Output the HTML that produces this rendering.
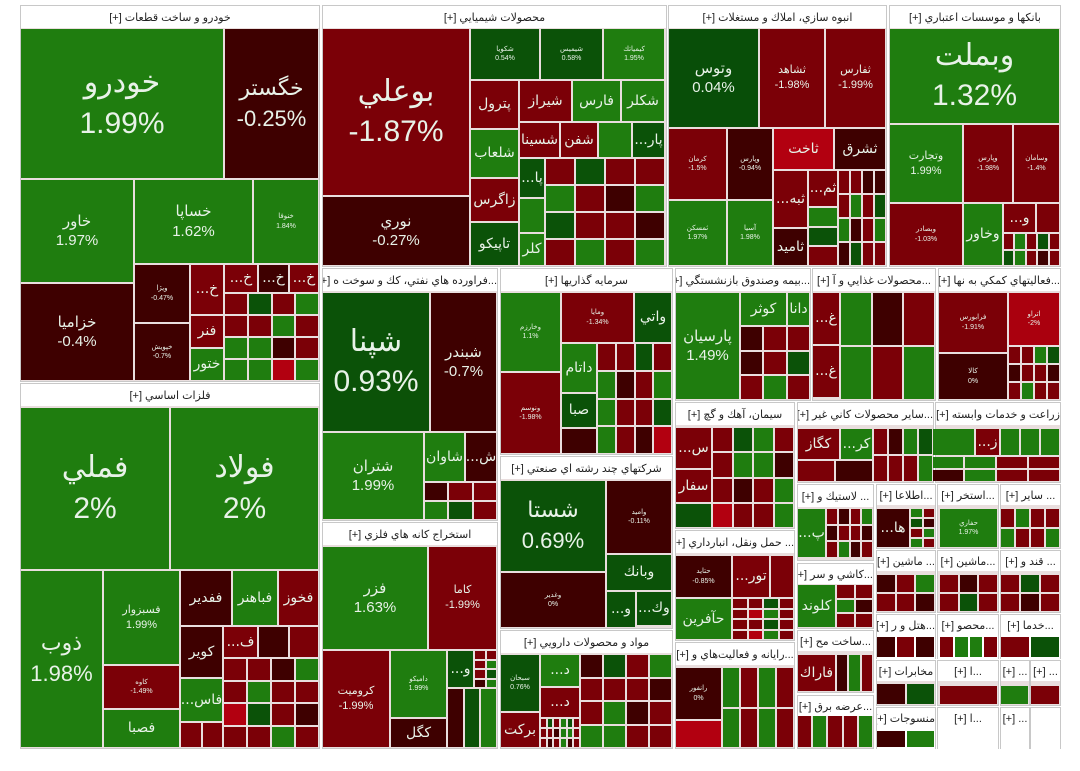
<!DOCTYPE html>
<html><head><meta charset="utf-8">
<style>
html,body{margin:0;padding:0;background:#fff;width:1080px;height:771px;overflow:hidden}
#map{position:absolute;left:0;top:0;width:1080px;height:771px}
.sec{position:absolute;background:#e9dede;box-sizing:border-box;border:1px solid #c8c8c8}
.hdr{position:absolute;left:0;right:0;top:0;background:#fff;color:#222;font:11px "Liberation Sans","DejaVu Sans",sans-serif;text-align:center;white-space:nowrap;overflow:hidden;direction:rtl}
.tile{position:absolute;display:flex;flex-direction:column;align-items:center;justify-content:center;color:#e8f2e8;font-family:"Liberation Sans","DejaVu Sans",sans-serif;overflow:hidden;white-space:nowrap;text-align:center}
.tile span{display:block}
</style></head><body>
<div id="map"></div>
<script>
// ---- sector data ----
const sectorTitles=["خودرو و ساخت قطعات [+]","محصولات شيميايي [+]","انبوه سازي، املاك و مستغلات [+]","بانكها و موسسات اعتباري [+]","...فراورده هاي نفتي، كك و سوخت ه [+]","استخراج كانه هاي فلزي [+]","فلزات اساسي [+]","سرمايه گذاريها [+]","شركتهاي چند رشته اي صنعتي [+]","مواد و محصولات دارويي [+]","...بيمه وصندوق بازنشستگي [+]","...محصولات غذايي و آ [+]","...فعاليتهاي كمكي به نها [+]","سيمان، آهك و گچ [+]","... حمل ونقل، انبارداري [+]","...رايانه و فعاليت‌هاي و [+]","...ساير محصولات كاني غير [+]","زراعت و خدمات وابسته [+]","... لاستيك و [+]","...اطلاعا [+]","...استخر [+]","... ساير [+]","...كاشي و سر [+]","... ماشين [+]","...ماشين [+]","... قند و [+]","...ساخت مح [+]","...عرضه برق [+]","...هتل و ر [+]","...محصو [+]","...خدما [+]","مخابرات [+]","منسوجات [+]","...ا [+]","...ا [+]","... [+]","... [+]","... [+]",""];
const sectorBoxes=[[20,5,319,381],[322,5,666,266],[668,5,886,266],[889,5,1060,266],[322,268,497,520],[322,522,497,748],[20,383,319,748],[500,268,672,454],[500,456,672,628],[500,630,672,748],[675,268,810,400],[812,268,935,400],[938,268,1060,400],[675,402,794,528],[675,530,794,640],[675,642,794,748],[797,402,933,482],[935,402,1060,482],[797,484,873,560],[876,484,935,548],[937,484,998,548],[1000,484,1060,548],[797,563,873,628],[876,550,935,612],[937,550,998,612],[1000,550,1060,612],[797,630,873,692],[797,695,873,748],[876,614,935,658],[937,614,998,658],[1000,614,1060,658],[876,660,935,705],[876,707,935,748],[937,660,998,705],[937,707,998,748],[1000,660,1029,705],[1030,660,1060,705],[1000,707,1029,748],[1030,707,1060,748]];
// ---- named tiles ----
const tileNames=["خودرو","خگستر","خاور","خساپا","خنوفا","خزاميا","ويژا","خپویش","...خ","فنر","ختور","...خ","...خ","...خ",
"بوعلي","نوري","شكويا","شيميس","كيمياتك","پترول","شلعاب","زاگرس","تاپيكو","شيراز","فارس","شكلر","شسينا","شفن","","...پار","...پا","كلر",
"وتوس","ثشاهد","ثفارس","كرمان","وپارس","ثاخت","ثشرق","ثمسكن","آسيا","...ثبه","ثاميد","...ثم",
"وبملت","وتجارت","وپارس","وسامان","وبصادر","وخاور","...و",
"شپنا","شبندر","شتران","شاوان","...ش",
"فزر","كاما","كروميت","داميكو","كگل","...و",
"فملي","فولاد","ذوب","فسبزوار","كاوه","فصبا","ففدير","فباهنر","فخوز","كوير","...فاس","...ف",
"وخارزم","ومايا","واتي","داتام","ونوسم","صبا",
"شستا","واميد","وبانك","وغدير","...و","...وك",
"سبحان","...د","...د","بركت",
"پارسيان","كوثر","دانا",
"...غ","...غ",
"فرابورس","اتراو","كالا",
"...س","سفار","",
"حتايد","...تور","","حآفرين",
"رانفور","",
"كگاز","...كر","","...ز",
"...پ","...ها","حفاري","كلوند","فاراك"];
const tileChanges=[1.99,-0.25,1.97,1.62,1.84,-0.4,-0.47,-0.7,-1.9,-1.9,1.9,-1.9,-0.5,-1.9,
-1.87,-0.27,0.54,0.58,1.95,-1.9,1.9,-1.9,0.5,-1.9,1.9,1.9,-1.9,-1.9,1.9,0.5,0.5,1.9,
0.04,-1.98,-1.99,-1.5,-0.94,-2.5,-0.5,1.97,1.98,-1.9,-0.5,-1.9,
1.32,1.99,-1.98,-1.4,-1.03,1.9,-1.9,
0.93,-0.7,1.99,1.9,-0.5,
1.63,-1.99,-1.99,1.99,-0.5,0.5,
2,2,1.98,1.99,-1.49,1.9,-0.5,1.9,-1.9,-0.5,1.9,-1.9,
1.1,-1.34,0.5,1.9,-1.98,0.5,
0.69,-0.11,0.5,0,0.5,0.5,
0.76,1.9,-1.9,-1.9,
1.49,1.9,1.9,
-1.9,-1.9,
-1.91,-2,0,
-1.9,-1.9,0.5,
-0.85,-1.9,-1.9,1.9,
0,-2.5,
-1.9,1.9,1.9,-1.9,
1.9,-0.5,1.97,1.9,-1.9];
// layout (pixel boxes) and label style, parallel to the arrays above
const tileBoxes=[[20,28,224,179,"L"],[224,28,319,179,"K"],[20,179,134,283,"M"],[134,179,253,264,"M"],[253,179,319,264,"S"],[20,283,134,381,"M"],[134,264,190,323,"S"],[134,323,190,381,"S"],[190,264,224,315,"N"],[190,315,224,348,"N"],[190,348,224,381,"N"],[224,264,258,293,"N"],[258,264,289,293,"N"],[289,264,319,293,"N"],
[322,28,470,196,"L"],[322,196,470,266,"M"],[470,28,540,80,"S"],[540,28,603,80,"S"],[603,28,665,80,"S"],[470,80,519,129,"N"],[470,129,519,178,"N"],[470,178,519,222,"N"],[470,222,519,266,"N"],[519,80,572,122,"N"],[572,80,621,122,"N"],[621,80,665,122,"N"],[519,122,560,158,"N"],[560,122,598,158,"N"],[598,122,632,158,"N"],[632,122,665,158,"N"],[519,158,545,198,"N"],[519,233,545,266,"N"],
[668,28,759,128,"M"],[759,28,825,128,"m"],[825,28,886,128,"m"],[668,128,727,200,"S"],[727,128,773,200,"S"],[773,128,834,170,"N"],[834,128,886,170,"N"],[668,200,727,266,"S"],[727,200,773,266,"S"],[773,170,808,228,"N"],[773,228,808,266,"N"],[808,170,838,207,"N"],
[889,28,1060,124,"L"],[889,124,963,203,"m"],[963,124,1013,203,"S"],[1013,124,1060,203,"S"],[889,203,963,266,"S"],[963,203,1003,266,"N"],[1003,203,1036,233,"N"],
[322,292,430,432,"L"],[430,292,497,432,"M"],[322,432,424,520,"M"],[424,432,465,482,"N"],[465,432,497,482,"N"],
[322,546,428,650,"M"],[428,546,497,650,"m"],[322,650,390,748,"m"],[390,650,447,718,"S"],[390,718,447,748,"N"],[447,650,474,688,"N"],
[20,407,170,570,"L"],[170,407,319,570,"L"],[20,570,103,748,"K"],[103,570,180,665,"m"],[103,665,180,709,"S"],[103,709,180,748,"N"],[180,570,232,626,"N"],[232,570,278,626,"N"],[278,570,319,626,"N"],[180,626,223,678,"N"],[180,678,223,722,"N"],[223,626,258,658,"N"],
[500,292,561,372,"S"],[561,292,634,343,"S"],[634,292,672,343,"N"],[561,343,597,393,"N"],[500,372,561,454,"S"],[561,393,597,428,"N"],
[500,480,606,572,"K"],[606,480,672,554,"S"],[606,554,672,591,"N"],[500,572,606,628,"S"],[606,591,636,628,"N"],[636,591,672,626,"N"],
[500,654,540,712,"S"],[540,654,580,687,"N"],[540,687,580,718,"N"],[500,712,540,748,"N"],
[675,292,740,400,"M"],[740,292,787,326,"N"],[787,292,810,326,"N"],
[812,292,840,345,"N"],[812,345,840,398,"N"],
[938,292,1008,353,"S"],[1008,292,1060,346,"S"],[938,353,1008,400,"S"],
[675,427,712,469,"N"],[675,469,712,503,"N"],[675,503,712,528,"N"],
[675,555,732,598,"S"],[732,555,770,598,"N"],[770,555,794,598,"N"],[675,598,732,640,"N"],
[675,667,722,720,"S"],[675,720,722,748,"N"],
[797,428,840,460,"N"],[840,428,873,460,"N"],[932,428,975,456,"N"],[975,428,1000,456,"N"],
[797,508,826,558,"N"],[876,508,910,548,"N"],[939,508,998,548,"S"],[797,584,836,628,"N"],[797,654,836,692,"N"]];
// ---- unlabeled small tiles: change codes G=+1.9 g=+0.5 r=-0.5 R=-1.9 B=-2.5 ----
const fillerCodes={G:1.9,g:0.5,r:-0.5,R:-1.9,B:-2.5};
const fillerPatterns=["RgRGRRGRGGrRGGBG","RgRRGRrGgRRrRGRG","G","RRrrRGRgGrRGrgRR","RGRgRgGRrR","R","rRRGgR","rgG","RRRGRgrG","rRGRR","RRrGRGRRBgRrRRGR","RR","r","RRgRGrRGGRRgGRrB","rgRGRRRrRGrRGGRR","RgRGgRRRrGGRRrRGrR","rRRrRgRGR","GrRGR","GgR","RRGgrRRrRGRRRGRg","RgGRRGGrRrRGBRRG","RRgRRBGR","GR","RrRGRgRR","RrGgRRRGRrRGrRgG","GGRRrGRR","RrRGrR","GRgrRG","RGR","RRGr","rRGRRrRG","RrRRgR","RgRRrR","rGRRGR","RGR","rRrGg","RGGR","RgRr","rgG","rG","RR","GG","R","G","GRR"];
const fillerBoxes=[[224,293,319,381,4,4],[545,158,665,266,4,4],[519,198,545,233,1,1],[838,170,886,266,4,4],[1003,233,1060,266,5,2],[1036,203,1060,233,1,1],[424,482,497,520,3,2],[447,688,497,748,3,1],[474,650,497,688,2,4],[258,626,319,658,2,1],[223,658,319,748,4,4],[180,722,223,748,2,1],[561,428,597,454,1,1],[597,343,672,454,4,4],[580,654,672,748,4,4],[540,718,580,748,6,3],[740,326,810,400,3,3],[840,292,935,400,3,2],[808,207,838,266,1,3],[1008,346,1060,400,4,3],[712,427,794,528,4,4],[732,598,794,640,4,4],[722,667,794,748,4,2],[797,460,873,482,2,1],[873,428,933,482,4,2],[932,456,1060,482,4,2],[826,508,873,558,4,3],[910,508,935,548,2,4],[1000,508,1060,548,4,2],[836,584,873,628,2,3],[876,574,935,612,3,2],[939,574,998,612,3,2],[1000,574,1060,612,3,2],[836,654,873,692,3,1],[797,715,873,748,5,1],[876,636,935,658,3,1],[939,636,998,658,4,1],[1000,636,1060,658,2,1],[876,683,935,705,2,1],[876,730,935,748,2,1],[939,685,998,705,1,1],[1000,685,1029,705,1,1],[1030,685,1060,705,1,1],[1000,428,1060,456,3,1]];

function colorFor(c){
  if(c>0){ if(c>=1) return "rgb(31,125,15)"; if(c>=0.3) return "rgb(11,82,8)"; return "rgb(8,78,8)"; }
  if(c<=-2.2) return "rgb(178,0,16)";
  if(c<=-2) return "rgb(170,0,14)";
  if(c<=-1) return "rgb(123,0,7)";
  return "rgb(62,0,0)";
}
function fmt(c){return (Math.round(c*100)/100)+"%";}
const map=document.getElementById('map');
function tileDiv(x1,y1,x2,y2,c){
  const d=document.createElement('div');
  d.className='tile';
  d.style.left=(x1+1)+'px';d.style.top=(y1+1)+'px';
  d.style.width=Math.max(0,x2-x1-2)+'px';d.style.height=Math.max(0,y2-y1-2)+'px';
  d.style.background=colorFor(c);
  map.appendChild(d);return d;
}
sectorBoxes.forEach((b,i)=>{
  const s=document.createElement('div');
  s.className='sec';
  
  
  s.style.left=b[0]+'px';s.style.top=b[1]+'px';s.style.width=(b[2]-b[0]+1)+'px';s.style.height=(b[3]-b[1]+1)+'px';
  if(!sectorTitles[i]) s.style.background='#fff';
  const h=document.createElement('div');
  h.className='hdr';
  
  
  h.textContent=sectorTitles[i];
  const hh=(b[3]-b[1]>70)?22:20;
  h.style.height=hh+'px';h.style.lineHeight=(hh+2)+'px';
  if(b[3]-b[1]<45) h.style.height=(b[3]-b[1])+'px';
  s.appendChild(h);map.appendChild(s);
});
const sizes={L:[30,30],K:[22,22],M:[15,15],m:[11,11],S:[7,7],N:[14,0]};
tileBoxes.forEach((b,i)=>{
  const d=tileDiv(b[0],b[1],b[2],b[3],tileChanges[i]);
  
  
  const sz=sizes[b[4]];
  if(tileNames[i]){
    const n=document.createElement('span');n.textContent=tileNames[i];
    n.style.fontSize=sz[0]+'px';n.style.lineHeight=(sz[0]*1.35)+'px';
    n.style.fontFamily='"DejaVu Sans","Liberation Sans",sans-serif';
    d.appendChild(n);
    if(sz[1]){const p=document.createElement('span');p.textContent=fmt(tileChanges[i]);p.style.fontSize=sz[1]+'px';p.style.lineHeight=(sz[1]*1.35)+'px';d.appendChild(p);}
  }
});
fillerBoxes.forEach((b,i)=>{
  const pat=fillerPatterns[i]||"R";
  const cw=(b[2]-b[0])/b[4], ch=(b[3]-b[1])/b[5];
  let k=0;
  for(let r=0;r<b[5];r++)for(let c=0;c<b[4];c++){
    const code=pat[k%pat.length];k++;
    const d=tileDiv(Math.round(b[0]+c*cw),Math.round(b[1]+r*ch),Math.round(b[0]+(c+1)*cw),Math.round(b[1]+(r+1)*ch),fillerCodes[code]);
    
    
  }
});
</script>
</body></html>
